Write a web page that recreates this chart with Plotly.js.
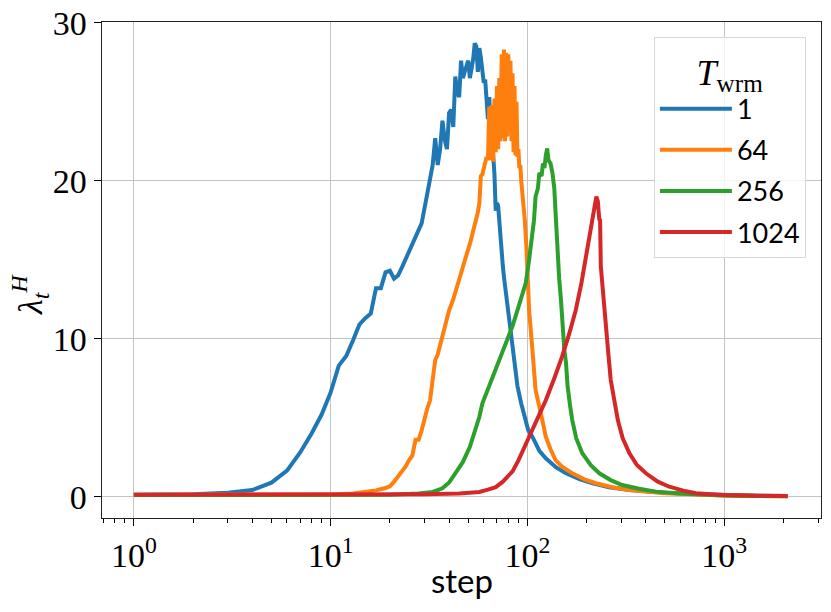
<!DOCTYPE html>
<html>
<head>
<meta charset="utf-8">
<script src="https://cdn.plot.ly/plotly-3.0.1.min.js"></script>
<style>
  html, body { margin: 0; padding: 0; background: #fff; }
  #chart { width: 831px; height: 612px; }
</style>
</head>
<body>
<div id="chart"></div>
<script>
// warmup lengths shown in the legend
var warmups = ["1", "64", "256", "1024"];
var colors = ["#1f77b4", "#ff7f0e", "#2ca02c", "#d62728"];

// T_wrm = 1
var stepsT1 = [1, 2, 3, 4, 5, 6, 7, 8, 9, 10, 11, 12, 13, 14, 15, 16, 17, 18, 19, 20,
    21, 22, 23, 24, 25, 27, 29, 31, 32, 33, 34, 35, 36, 37, 38, 39, 40, 41, 42, 43,
    44, 45, 46, 47, 48, 49, 50, 51, 52, 53, 54, 55, 56, 57, 58, 59, 60, 61, 62, 63,
    64, 65, 66, 67, 68, 69, 70, 71, 72, 73, 75, 76, 78, 80, 82, 84, 86, 89, 93, 97,
    101, 106, 115, 124, 140, 157, 185, 215, 260, 330, 500, 750, 1000, 1500, 2100];
var lamT1 = [0.12, 0.15, 0.25, 0.42, 0.89, 1.65, 2.8, 4.0, 5.2, 6.6, 8.3, 8.9, 9.9, 10.9, 11.3, 11.6, 13.2, 13.2, 14.2, 14.3,
    13.8, 14.0, 14.5, 15.0, 15.6, 16.4, 17.3, 19.2, 20.3, 21.0, 22.7, 21.0, 22.0, 23.8, 22.6, 22.0, 24.3, 24.5, 23.4, 26.6,
    25.6, 25.3, 27.6, 26.5, 26.9, 27.3, 27.6, 26.5, 27.0, 27.7, 28.7, 28.5, 26.9, 28.4, 27.8, 26.9, 26.2, 26.4, 25.0, 23.9,
    25.3, 23.0, 21.7, 21.6, 20.4, 18.1, 18.6, 18.4, 17.2, 16.5, 14.6, 13.9, 12.8, 11.8, 10.4, 9.3, 8.3, 7.0, 5.9, 5.06,
    4.2, 3.8, 2.9, 2.43, 1.85, 1.48, 1.1, 0.85, 0.6, 0.42, 0.25, 0.15, 0.1, 0.06, 0.04];

// T_wrm = 64
var stepsT64 = [1, 5, 10, 13, 15, 17, 19, 20, 21, 22, 23, 24, 25, 26, 27, 28, 29, 30, 31, 32,
    33, 34, 35, 37, 38, 40, 42, 43, 45, 47, 49, 51, 53, 55, 56, 57, 58, 59, 60, 61,
    62, 63, 64, 65, 66, 67, 68, 69, 70, 71, 72, 73, 74, 75, 76, 77, 78, 79, 80, 81,
    82, 83, 84, 85, 86, 87, 88, 89, 90, 91, 92, 93, 95, 97, 99, 102, 106, 110, 117, 124,
    131, 139, 150, 169, 195, 223, 270, 330, 500, 750, 1000, 1500, 2100];
var lamT64 = [0.12, 0.12, 0.14, 0.2, 0.3, 0.4, 0.55, 0.65, 0.95, 1.27, 1.6, 1.9, 2.3, 2.6, 3.6, 3.6, 4.2, 5.06, 5.6, 6.1,
    7.5, 8.65, 9.0, 10.1, 10.6, 11.8, 12.5, 12.9, 13.7, 14.5, 15.3, 16.0, 16.8, 17.5, 18.0, 18.6, 20.3, 20.4, 20.7, 21.0,
    21.5, 21.3, 24.7, 21.3, 24.8, 21.2, 25.2, 21.8, 26.0, 22.0, 26.5, 22.5, 28.0, 22.7, 28.3, 22.5, 28.1, 22.8, 28.0, 23.1,
    27.6, 22.5, 26.8, 21.8, 26.0, 21.6, 25.0, 21.5, 22.0, 20.8, 21.0, 20.0, 18.8, 17.5, 15.6, 11.8, 9.3, 6.75, 5.28, 3.8,
    3.0, 2.32, 1.9, 1.48, 1.1, 0.85, 0.6, 0.42, 0.22, 0.12, 0.08, 0.05, 0.03];

// T_wrm = 256
var stepsT256 = [1, 10, 20, 28, 33, 37, 40, 43, 47, 51, 55, 57, 59, 62, 65, 69, 75, 81, 84, 90,
    98, 102, 106, 108, 110, 113, 115, 118, 120, 122, 124, 126, 128, 131, 134, 137, 139, 142, 145, 148,
    151, 154, 157, 160, 165, 169, 177, 190, 210, 232, 265, 303, 370, 450, 600, 800, 1000, 1500, 2100];
var lamT256 = [0.1, 0.1, 0.12, 0.2, 0.3, 0.53, 0.9, 1.48, 2.2, 3.16, 4.4, 5.06, 5.9, 6.6, 7.2, 8.1, 9.2, 10.3, 10.8, 12.0,
    13.5, 15.0, 16.7, 17.5, 19.0, 19.5, 20.5, 20.3, 21.1, 20.8, 21.6, 22.05, 21.3, 21.1, 20.5, 19.5, 18.0, 15.6, 13.8, 12.5,
    10.8, 9.3, 8.5, 7.0, 5.7, 4.85, 3.7, 2.75, 2.0, 1.48, 1.05, 0.74, 0.5, 0.32, 0.2, 0.12, 0.08, 0.05, 0.03];

// T_wrm = 1024
var stepsT1024 = [1, 10, 30, 45, 57, 63, 69, 75, 80, 84, 90, 97, 104, 114, 124, 137, 150, 163, 176, 188,
    198, 207, 215, 220, 224, 228, 232, 234, 236, 243, 250, 258, 265, 276, 288, 305, 330, 360, 400, 460,
    526, 620, 718, 850, 1000, 1500, 2100];
var lamT1024 = [0.12, 0.12, 0.15, 0.2, 0.3, 0.45, 0.6, 0.95, 1.3, 1.6, 2.3, 3.2, 4.0, 5.0, 6.1, 7.5, 8.86, 10.3, 11.8, 13.5,
    15.2, 16.5, 17.7, 18.6, 19.0, 18.7, 17.5, 17.6, 14.6, 12.5, 10.8, 9.0, 7.4, 6.0, 4.85, 3.7, 2.75, 2.0, 1.48, 0.95,
    0.63, 0.38, 0.22, 0.15, 0.1, 0.06, 0.04];

var xs = [stepsT1, stepsT64, stepsT256, stepsT1024];
var ys = [lamT1, lamT64, lamT256, lamT1024];

var data = [];
for (var i = 0; i < warmups.length; i++) {
    data.push({
        x: xs[i],
        y: ys[i],
        name: warmups[i],
        legendgroup: "g" + i,
        type: "scatter",
        mode: "lines",
        line: {color: colors[i], width: 4}
    });
}

// minor log ticks 2..9 in each decade
var minorTicks = [];
for (var d = 0.1; d < 5000; d *= 10) {
    for (var m = 2; m <= 9; m++) minorTicks.push(m * d);
}

var serif = "Liberation Serif, DejaVu Serif, serif";
var sans = "Lato, Open Sans, sans-serif";

var layout = {
    width: 831,
    height: 612,
    margin: {l: 102, r: 10, t: 22, b: 94},
    paper_bgcolor: "#fff",
    plot_bgcolor: "#fff",
    showlegend: true,
    xaxis: {
        type: "log",
        range: [-0.162, 3.492],
        tickvals: [1, 10, 100, 1000],
        ticktext: ["10<sup>0</sup>", "10<sup>1</sup>", "10<sup>2</sup>", "10<sup>3</sup>"],
        ticks: "outside",
        ticklen: 7,
        tickwidth: 1.2,
        tickcolor: "#000",
        tickfont: {family: serif, size: 34, color: "#000"},
        minor: {tickmode: "array", tickvals: minorTicks, ticks: "outside", ticklen: 4, tickwidth: 1, tickcolor: "#000", showgrid: false},
        showgrid: true,
        gridcolor: "#c4c4c4",
        gridwidth: 1,
        zeroline: false,
        showline: true,
        mirror: true,
        linecolor: "#222",
        linewidth: 1.4
    },
    yaxis: {
        range: [-1.35, 30.05],
        tickvals: [0, 10, 20, 30],
        ticks: "outside",
        ticklen: 7,
        tickwidth: 1.2,
        tickcolor: "#000",
        tickfont: {family: serif, size: 34, color: "#000"},
        showgrid: true,
        gridcolor: "#c4c4c4",
        gridwidth: 1,
        zeroline: false,
        showline: true,
        mirror: true,
        linecolor: "#222",
        linewidth: 1.4
    },
    annotations: [
        {text: "step", xref: "paper", yref: "paper", x: 0.5, y: -0.125,
         xanchor: "center", yanchor: "middle", showarrow: false,
         font: {family: sans, size: 33, color: "#000"}},
        {text: "<i>λ</i><sub><i>t</i></sub><sup><i>H</i></sup>", xref: "paper", yref: "paper", x: -0.1, y: 0.45,
         xanchor: "center", yanchor: "middle", textangle: -90, showarrow: false,
         font: {family: serif, size: 34, color: "#000"}}
    ],
    legend: {
        x: 0.979,
        y: 0.97,
        xanchor: "right",
        yanchor: "top",
        bgcolor: "rgba(255,255,255,0.8)",
        bordercolor: "#d6d6d6",
        borderwidth: 1,
        itemwidth: 72,
        tracegroupgap: 3,
        font: {family: sans, size: 27, color: "#000"},
        title: {text: "<i>T</i><sub>wrm</sub>", side: "top center", font: {family: serif, size: 36, color: "#000"}}
    }
};

Plotly.newPlot("chart", data, layout, {displayModeBar: false, staticPlot: true});
</script>
</body>
</html>
